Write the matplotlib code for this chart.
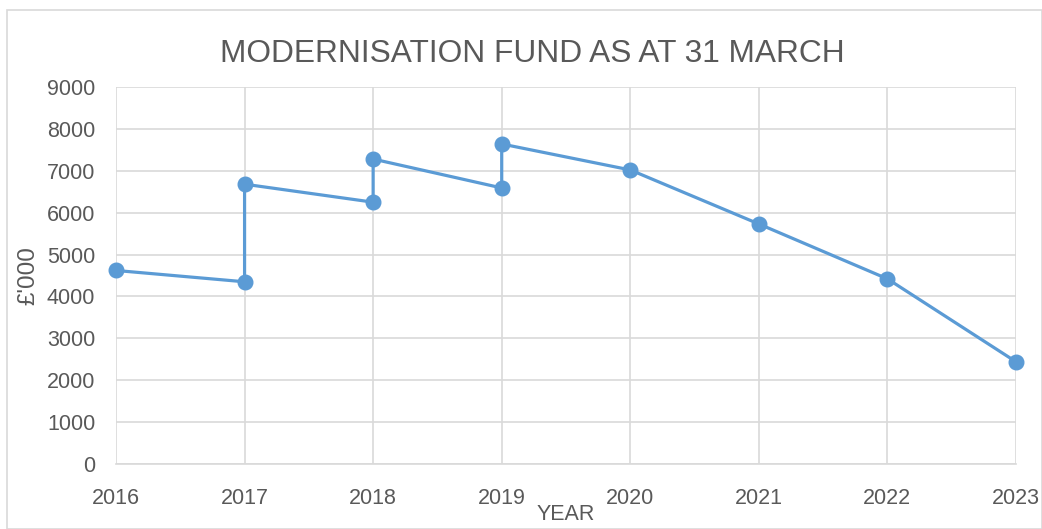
import matplotlib.pyplot as plt
from matplotlib.patches import Rectangle

years = [2016, 2017, 2017, 2018, 2018, 2019, 2019, 2020, 2021, 2022, 2023]
fund = [4620, 4350, 6680, 6250, 7280, 6590, 7640, 7020, 5730, 4420, 2440]
xticks = [2016, 2017, 2018, 2019, 2020, 2021, 2022, 2023]
yticks = list(range(0, 10000, 1000))

plt.rcParams['font.family'] = ['Liberation Sans', 'DejaVu Sans']
grey = '#595959'
gridc = '#d9d9d9'

fig = plt.figure(figsize=(10.42, 5.29), dpi=100)
fig.patches.append(Rectangle((7/1042, 0), 1 - 7/1042, 1 - 10/529, transform=fig.transFigure,
                             fill=False, edgecolor=gridc, linewidth=1.2))
ax = fig.add_axes([116/1042, 1 - 464/529, 900/1042, 377/529])

ax.plot(years, fund, color='#5b9bd5', linewidth=2.3, marker='o', markersize=10.5, zorder=3, clip_on=False)

ax.set_xlim(2016, 2023)
ax.set_ylim(0, 9000)
ax.set_xticks(xticks)
ax.set_yticks(yticks)
ax.grid(True, color=gridc, linewidth=1.2)
for s in ['top', 'right', 'left']:
    ax.spines[s].set_visible(False)
ax.spines['bottom'].set_color(gridc)
ax.spines['bottom'].set_linewidth(1.2)
ax.tick_params(length=0, labelsize=15.5, labelcolor=grey)
ax.tick_params(axis='x', pad=17)
ax.tick_params(axis='y', pad=15)

fig.text(532/1042, 1 - 54/529, 'MODERNISATION FUND AS AT 31 MARCH', ha='center', va='center',
         fontsize=22.8, color=grey)
fig.text(566/1042, 1 - 515/529, 'YEAR', ha='center', va='center', fontsize=15.5, color=grey)
fig.text(28/1042, 1 - 276/529, "£'000", ha='center', va='center', rotation=90, fontsize=17.5,
         color=grey)

fig.savefig('out.png', dpi=100)
